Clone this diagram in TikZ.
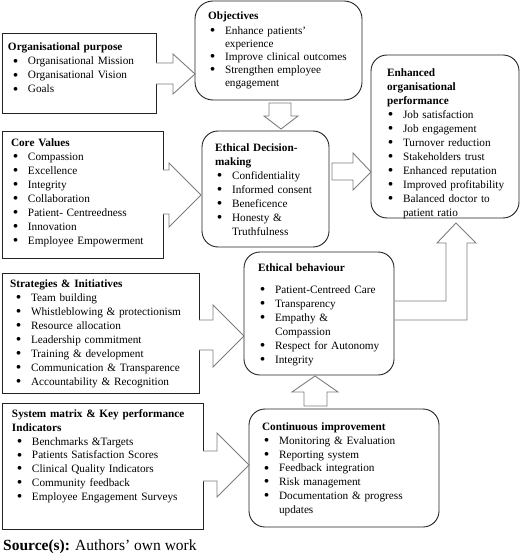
\documentclass[tikz,border=0pt]{standalone}
\usepackage{fontspec}
\setmainfont{Liberation Serif}
\usetikzlibrary{calc}
\definecolor{arrowgray}{RGB}{125,125,125}
\definecolor{boxline}{RGB}{35,35,35}
\newcommand\bodyfont{\fontsize{11.25}{14}\selectfont}
\newcommand\bigbullet{\raisebox{-1.1pt}{\scalebox{1.4}{\textbullet}}}
\newenvironment{blt}[2][14pt]{%
 \begin{list}{\bigbullet}{%
  \setlength{\leftmargin}{#2}%
  \setlength{\labelsep}{9.5pt}%
  \setlength{\labelwidth}{\dimexpr#2-9.5pt\relax}%
  \setlength{\itemsep}{0pt}\setlength{\parsep}{0pt}%
  \setlength{\topsep}{0pt}\setlength{\partopsep}{0pt}%
  \setlength{\itemindent}{0pt}%
  \renewcommand{\makelabel}[1]{\hss##1}}}
 {\end{list}}
\newcommand\fl{\rule{0pt}{9pt}}
\tikzset{
  sqbox/.style={draw=boxline, line width=0.9pt, inner sep=0pt, outer sep=0pt},
  rdbox/.style={sqbox, rounded corners=16pt},
  content/.style={anchor=north west, inner sep=0pt, outer sep=0pt, text width=200pt, font=\bodyfont},
  blockarrow/.style={draw=arrowgray, line width=0.9pt, line join=miter},
  blockfill/.style={fill=white}
}
\begin{document}
\begin{tikzpicture}[x=1pt,y=-1pt]
\useasboundingbox (0,0) rectangle (520,553);

% boxes
\node[sqbox, minimum width=154pt, minimum height=80pt] (op) at (79,73) {};
\node[rdbox, rounded corners=18pt, minimum width=167pt, minimum height=99pt] (obj) at (278.5,50.5) {};
\node[sqbox, minimum width=161pt, minimum height=127pt] (cv) at (82.5,194.5) {};
\node[rdbox, minimum width=127pt, minimum height=116pt] (edm) at (265.5,189) {};
\node[rdbox, minimum width=148pt, minimum height=163pt] (eop) at (445,136.5) {};
\node[sqbox, minimum width=197pt, minimum height=120pt] (si) at (100.5,333) {};
\node[rdbox, minimum width=150pt, minimum height=123pt] (eb) at (319,313.5) {};
\node[sqbox, minimum width=201pt, minimum height=126pt] (sm) at (102.5,466) {};
\node[rdbox, minimum width=190pt, minimum height=118pt] (ci) at (344,468) {};

% texts
\node[content] (opT) at (8,42) {\raggedright\fl\textbf{Organisational purpose}
\begin{blt}{20pt}
\item Organisational Mission
\item Organisational Vision
\item Goals
\end{blt}};

\node[content, font=\fontsize{11.25}{13}\selectfont] (objT) at (208,10.5) {\raggedright\fl\textbf{Objectives}\par\vspace{2pt}
\begin{blt}{17pt}
\item Enhance patients’\\experience
\item Improve clinical outcomes
\item Strengthen employee\\engagement
\end{blt}};

\node[content] (cvT) at (11,137.5) {\raggedright\fl\textbf{Core Values}
\begin{blt}{17pt}
\item Compassion
\item Excellence
\item Integrity
\item Collaboration
\item Patient- Centreedness
\item Innovation
\item Employee Empowerment
\end{blt}};

\node[content] (edmT) at (215,142.5) {\raggedright\fl\textbf{Ethical Decision-}\\\textbf{making}
\begin{blt}{17pt}
\item Confidentiality
\item Informed consent
\item Beneficence
\item Honesty \&\\Truthfulness
\end{blt}};

\node[content] (eopT) at (387,67.5) {\raggedright\fl\textbf{Enhanced}\\\textbf{organisational}\\\textbf{performance}
\begin{blt}{16pt}
\item Job satisfaction
\item Job engagement
\item Turnover reduction
\item Stakeholders trust
\item Enhanced reputation
\item Improved profitability
\item Balanced doctor to\\patient ratio
\end{blt}};

\node[content] (siT) at (10,278.5) {\raggedright\fl\textbf{Strategies \& Initiatives}
\begin{blt}{21pt}
\item Team building
\item Whistleblowing \& protectionism
\item Resource allocation
\item Leadership commitment
\item Training \& development
\item Communication \& Transparence
\item Accountability \& Recognition
\end{blt}};

\node[content] (ebT) at (258,262.5) {\raggedright\fl\textbf{Ethical behaviour}\par\vspace{8pt}
\begin{blt}{17pt}
\item Patient-Centreed Care
\item Transparency
\item Empathy \&\\Compassion
\item Respect for Autonomy
\item Integrity
\end{blt}};

\node[content, font=\fontsize{11.25}{13.8}\selectfont] (smT) at (12,408.5) {\raggedright\fl\textbf{System matrix \& Key performance}\\\textbf{Indicators}
\begin{blt}{20pt}
\item Benchmarks \&Targets
\item Patients Satisfaction Scores
\item Clinical Quality Indicators
\item Community feedback
\item Employee Engagement Surveys
\end{blt}};

\node[content, font=\fontsize{11.25}{13.8}\selectfont] (ciT) at (262,421.5) {\raggedright\fl\textbf{Continuous improvement}
\begin{blt}{17pt}
\item Monitoring \& Evaluation
\item Reporting system
\item Feedback integration
\item Risk management
\item Documentation \& progress\\updates
\end{blt}};

\node[anchor=base west, inner sep=0pt, font=\fontsize{15.5}{18}\selectfont] (src) at (3,550) {\textbf{Source(s):} Authors’ own work};

% block arrows from the left boxes (they cut the box edge)
\fill[blockfill] ($(op.east|-0,63)+(-2,0)$) -- (173,63) -- (173,54) -- (obj.west|-0,74) -- (173,94) -- (173,84) -- ($(op.east|-0,84)+(-2,0)$) -- cycle;
\draw[blockarrow] (op.east|-0,63) -- (173,63) -- (173,54) -- (obj.west|-0,74) -- (173,94) -- (173,84) -- (op.east|-0,84);

\fill[blockfill] ($(cv.east|-0,170)+(-2,0)$) -- (169,170) -- (169,163) -- (201,195) -- (169,227) -- (169,214) -- ($(cv.east|-0,214)+(-2,0)$) -- cycle;
\draw[blockarrow] (cv.east|-0,170) -- (169,170) -- (169,163) -- (201,195) -- (169,227) -- (169,214) -- (cv.east|-0,214);

\fill[blockfill] ($(si.east|-0,320)+(-2,0)$) -- (213,320) -- (213,305) -- (eb.west|-0,336) -- (213,367) -- (213,350) -- ($(si.east|-0,350)+(-2,0)$) -- cycle;
\draw[blockarrow] (si.east|-0,320) -- (213,320) -- (213,305) -- (eb.west|-0,336) -- (213,367) -- (213,350) -- (si.east|-0,350);

\fill[blockfill] ($(sm.east|-0,451)+(-2,0)$) -- (217,451) -- (217,433) -- (ci.west|-0,465) -- (217,497) -- (217,481) -- ($(sm.east|-0,481)+(-2,0)$) -- cycle;
\draw[blockarrow] (sm.east|-0,451) -- (217,451) -- (217,433) -- (ci.west|-0,465) -- (217,497) -- (217,481) -- (sm.east|-0,481);

% down arrow: objectives -> ethical decision-making
\draw[blockarrow] (269,103) -- (291,103) -- (291,116) -- (298,116) -- (281,129) -- (264,116) -- (269,116) -- cycle;
% right arrow: ethical decision-making -> enhanced performance
\draw[blockarrow] (332,163) -- (353,163) -- (353,153) -- (eop.west|-0,172) -- (353,190) -- (353,180) -- (332,180) -- cycle;
% up arrow: continuous improvement -> ethical behaviour
\draw[blockarrow] (304,406) -- (304,392) -- (292,392) -- (315,376) -- (338,392) -- (327,392) -- (327,406) -- cycle;
% elbow arrow: ethical behaviour -> enhanced performance
\draw[blockarrow] ($(eb.east|-0,301)+(1,0)$) -- (446,301) -- (446,243) -- (437,243) -- (456,223) -- (476,243) -- (467,243) -- (467,320) -- ($(eb.east|-0,320)+(1,0)$);
\end{tikzpicture}
\end{document}
